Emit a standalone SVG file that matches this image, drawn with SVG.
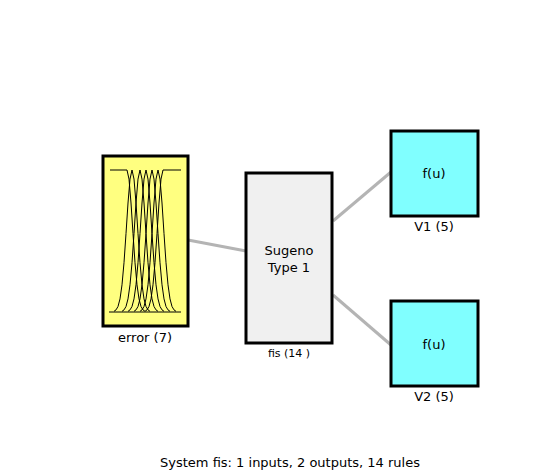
<svg xmlns="http://www.w3.org/2000/svg" width="550" height="476" viewBox="0 0 550 476">
<style>
.box{stroke:#000;stroke-width:3}
.lbl{font-family:"DejaVu Sans",sans-serif;font-size:13px;fill:#000;text-anchor:middle}
.mf{fill:none;stroke:#000;stroke-width:1}
.conn{stroke:#b4b4b4;stroke-width:3;fill:none}
</style>
<defs>
<path id="g" class="mf" d="M-18,311.3 L-16,309.9 L-14,306.5 L-12,298.9 L-10,284.8 L-8,262.7 L-6,233.6 L-4,203 L-2,179.1 L0,170 L2,179.1 L4,203 L6,233.6 L8,262.7 L10,284.8 L12,298.9 L14,306.5 L16,309.9 L18,311.3"/>
</defs>
<rect width="550" height="476" fill="#fff"/>
<g id="connectors">
<line class="conn" x1="188" y1="240" x2="246" y2="251"/>
<line class="conn" x1="333" y1="221" x2="391" y2="172"/>
<line class="conn" x1="333" y1="295" x2="391" y2="345"/>
</g>
<g id="error">
<rect class="box" x="103" y="156" width="85" height="170" fill="#ffff80"/>
<line class="mf" x1="109" y1="312" x2="181" y2="312"/>
<path class="mf" d="M110,170 L127,170 L129,179.1 L131,203 L133,233.6 L135,262.7 L137,284.8 L139,298.9 L141,306.5 L143,309.9 L145,311.3"/>
<path class="mf" d="M145,311.3 L147,309.9 L149,306.5 L151,298.9 L153,284.8 L155,262.7 L157,233.6 L159,203 L161,179.1 L163,170 L181,170"/>
<use href="#g" x="132"/>
<use href="#g" x="140"/>
<use href="#g" x="146"/>
<use href="#g" x="152"/>
<use href="#g" x="158"/>
<text class="lbl" x="145" y="342">error (7)</text>
</g>
<g id="fis">
<rect class="box" x="246" y="173" width="86" height="170" fill="#f0f0f0"/>
<text class="lbl" x="289" y="255">Sugeno</text>
<text class="lbl" x="289" y="272">Type 1</text>
<text class="lbl" x="289" y="357" style="font-size:11px">fis (14 )</text>
</g>
<g id="V1">
<rect class="box" x="391" y="131" width="87" height="85" fill="#80ffff"/>
<text class="lbl" x="434" y="178">f(u)</text>
<text class="lbl" x="434" y="231">V1 (5)</text>
</g>
<g id="V2">
<rect class="box" x="391" y="301" width="87" height="85" fill="#80ffff"/>
<text class="lbl" x="434" y="349">f(u)</text>
<text class="lbl" x="434" y="401">V2 (5)</text>
</g>
<text class="lbl" x="290" y="467">System fis: 1 inputs, 2 outputs, 14 rules</text>
</svg>
